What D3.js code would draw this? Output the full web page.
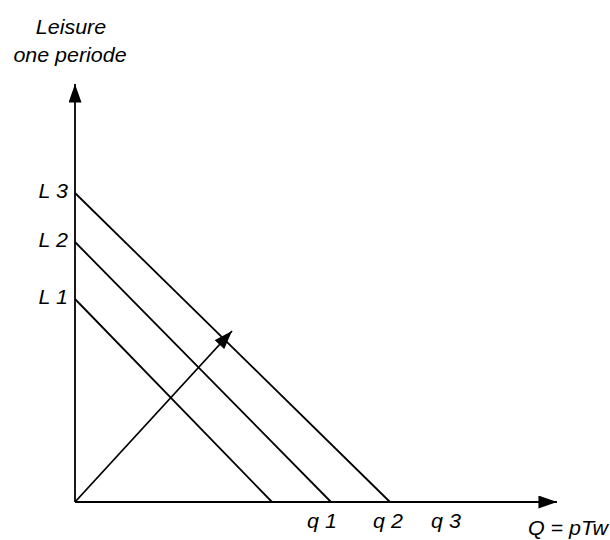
<!DOCTYPE html>
<html>
<head>
<meta charset="utf-8">
<script src="https://cdn.jsdelivr.net/npm/d3@7"></script>
<style>
  html, body { margin: 0; padding: 0; background: #fff; }
  svg { display: block; }
  text { font-family: "Liberation Sans", Arial, sans-serif; font-style: italic; fill: #000; }
</style>
</head>
<body>
<script>
// Budget lines: leisure intercept (vertical axis) and quantity intercept (horizontal axis)
const lineLabels = ["L 1", "L 2", "L 3"];
const leisureIntercepts = [20.3, 26.0, 30.9];
const quantityIntercepts = [19.7, 25.6, 31.5];

// Quantity tick labels along the horizontal axis
const qLabels = ["q 1", "q 2", "q 3"];
const qPositions = [24.7, 31.3, 37.1];

// Expansion vector drawn from the origin
const vectorEnd = [15.7, 17.1];

// Axis extents
const xMax = 48.2;
const yMax = 41.8;

const W = 610, H = 540;
const origin = { x: 75, y: 502 };

const x = d3.scaleLinear().domain([0, xMax]).range([origin.x, origin.x + xMax * 10]);
const y = d3.scaleLinear().domain([0, yMax]).range([origin.y, origin.y - yMax * 10]);

const svg = d3.select("body").append("svg")
  .attr("width", W).attr("height", H);

const defs = svg.append("defs");
defs.append("marker")
  .attr("id", "head")
  .attr("viewBox", "0 0 20 14")
  .attr("refX", 20).attr("refY", 7)
  .attr("markerUnits", "userSpaceOnUse")
  .attr("markerWidth", 19).attr("markerHeight", 13)
  .attr("orient", "auto")
  .append("path").attr("d", "M0,0 L20,7 L0,14 Z").attr("fill", "#000");

const stroke = 1.8;

// Axes with arrowheads
svg.append("line")
  .attr("x1", x(0)).attr("y1", y(0)).attr("x2", x(0)).attr("y2", y(yMax))
  .attr("stroke", "#000").attr("stroke-width", stroke)
  .attr("marker-end", "url(#head)");
svg.append("line")
  .attr("x1", x(0)).attr("y1", y(0)).attr("x2", x(xMax)).attr("y2", y(0))
  .attr("stroke", "#000").attr("stroke-width", stroke)
  .attr("marker-end", "url(#head)");

// Budget lines
const budget = lineLabels.map((lab, i) => ({ lab, l: leisureIntercepts[i], q: quantityIntercepts[i] }));
svg.selectAll("line.budget").data(budget).join("line")
  .attr("class", "budget")
  .attr("x1", x(0)).attr("y1", d => y(d.l))
  .attr("x2", d => x(d.q)).attr("y2", y(0))
  .attr("stroke", "#000").attr("stroke-width", stroke);

// Expansion vector
svg.append("line")
  .attr("x1", x(0)).attr("y1", y(0))
  .attr("x2", x(vectorEnd[0])).attr("y2", y(vectorEnd[1]))
  .attr("stroke", "#000").attr("stroke-width", stroke)
  .attr("marker-end", "url(#head)");

const fs = 19.5, sx = 1.1;
function label(txt, px, py, anchor) {
  svg.append("text")
    .attr("transform", `translate(${px},${py}) scale(${sx},1)`)
    .attr("text-anchor", anchor)
    .attr("font-size", fs)
    .text(txt);
}

// Leisure intercept labels
budget.forEach(d => label(d.lab, x(0) - 7, y(d.l) + 5, "end"));

// Quantity labels
qLabels.forEach((t, i) => label(t, x(qPositions[i]), 528, "middle"));

// Axis titles
label("Leisure", 71, 34, "middle");
label("one periode", 70, 62, "middle");
label("Q = pTw", 608, 535, "end");
</script>
</body>
</html>
